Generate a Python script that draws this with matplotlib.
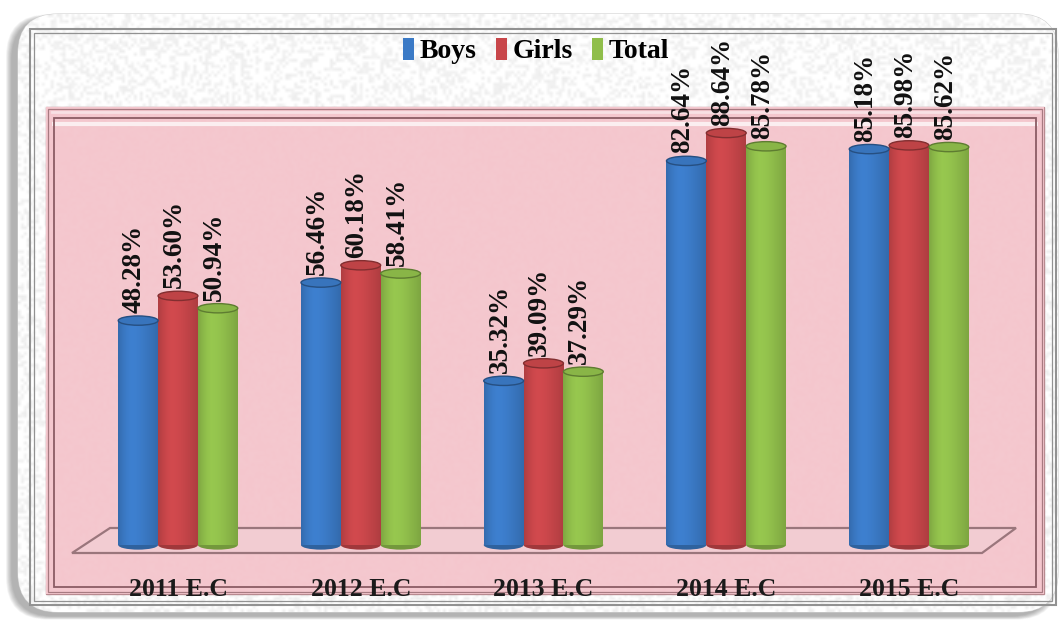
import numpy as np
import matplotlib
matplotlib.use("Agg")
import matplotlib.pyplot as plt
from matplotlib.patches import FancyBboxPatch, Rectangle, Ellipse, Polygon
from matplotlib.colors import to_rgb

# ---- data ----
years = ["2011 E.C", "2012 E.C", "2013 E.C", "2014 E.C", "2015 E.C"]
boys = [48.28, 56.46, 35.32, 82.64, 85.18]
girls = [53.60, 60.18, 39.09, 88.64, 85.98]
total = [50.94, 58.41, 37.29, 85.78, 85.62]
series_names = ["Boys", "Girls", "Total"]
series_colors = ["#3b7ac6", "#c8464a", "#90be4b"]

W, H = 1064, 621
SERIF = ["Liberation Serif", "DejaVu Serif"]

fig = plt.figure(figsize=(W / 100, H / 100), dpi=100)
fig.patch.set_facecolor("white")

# ---- decoration layer in pixel coordinates ----
bg = fig.add_axes([0, 0, 1, 1])
bg.set_xlim(0, W)
bg.set_ylim(H, 0)
bg.axis("off")


def speckle(ny, nx, seed_a, seed_b):
    yy, xx = np.mgrid[0:ny, 0:nx].astype(float)
    v = np.sin(xx * seed_a + yy * seed_b) * 43758.5453
    return v - np.floor(v)


# soft drop shadow of the card (offset left / down)
for i in range(12):
    grow = 12 - i
    sh = FancyBboxPatch((18 - 6 - grow * 0.5, 14 + 4 - grow * 0.3), 1040 + grow, 598 + grow * 0.6,
                        boxstyle="round,pad=0,rounding_size=42",
                        facecolor="#505050", edgecolor="none", alpha=0.045, zorder=1)
    bg.add_patch(sh)

card = FancyBboxPatch((18, 14), 1040, 598, boxstyle="round,pad=0,rounding_size=40",
                      facecolor="white", edgecolor="#d0d0d0", linewidth=0.8, zorder=2)
bg.add_patch(card)

# light grainy texture on the card
n1 = speckle(200, 350, 12.9898, 78.233)
card_tex = 1.0 - 0.07 * (n1 > 0.6) * n1
tex = bg.imshow(np.dstack([card_tex] * 3), extent=(18, 1058, 612, 14),
                interpolation="bilinear", zorder=3)
tex.set_clip_path(card)

# double grey frame line inside the card
for off, lw in [(0, 1.5), (4, 0.9)]:
    bg.add_patch(Rectangle((30 + off, 29 + off), 1026 - 2 * off, 576 - 2 * off,
                           fill=False, edgecolor="#929292", linewidth=lw, zorder=4))

# pink plotting panel with textured fill and bevelled border
panel = Rectangle((46, 107), 998, 487, facecolor="#f4c8cf", edgecolor="#b88a90",
                  linewidth=1.0, zorder=5)
bg.add_patch(panel)
n2 = speckle(160, 330, 4.898, 7.233)
base = np.array(to_rgb("#f4c6cd"))
pink = base[None, None, :] * (1 - 0.05 * n2[..., None]) + 0.05 * n2[..., None]
ptex = bg.imshow(pink, extent=(46, 1044, 594, 107), interpolation="bilinear", zorder=6)
ptex.set_clip_path(panel)
# bevel highlight and inner border lines
bg.plot([52, 1038], [124, 124], color="#fbeef0", lw=3, zorder=7, solid_capstyle="butt")
bg.plot([52, 1038], [112, 112], color="#f8e0e4", lw=2, zorder=7)
bg.add_patch(Rectangle((54, 118), 982, 469, fill=False, edgecolor="#8b5c64",
                       linewidth=1.3, zorder=7))
bg.add_patch(Rectangle((48, 109), 994, 483, fill=False, edgecolor="#a77a81",
                       linewidth=0.9, zorder=7))

# perspective floor of the chart
floor = Polygon([(72, 553), (110, 528), (1016, 528), (982, 553)], closed=True,
                facecolor="#f2ccd2", edgecolor="#9a767c", linewidth=1.6, zorder=8)
bg.add_patch(floor)

# ---- data axes: y = 0 sits on the floor, 100 % near the top ----
px_left, px_right = 86.6, 1000.4
px_zero, px_hundred = 545.0, 80.2
ax = fig.add_axes([px_left / W, (H - px_zero) / H,
                   (px_right - px_left) / W, (px_zero - px_hundred) / H])
ax.set_xlim(-0.5, 4.5)
ax.set_ylim(0, 100)
ax.patch.set_alpha(0)
for s in ax.spines.values():
    s.set_visible(False)
ax.set_yticks([])

bar_w = 0.218
offsets = [-bar_w, 0.0, bar_w]
ell_h = 2.0  # height of the cylinder caps in data units

x = np.arange(len(years))
shade = np.array([0.62, 0.8, 0.93, 1.0, 0.98, 0.93, 0.86, 0.78, 0.7, 0.6])
shade = np.interp(np.linspace(0, 9, 64), np.arange(10), shade)

handles = []
for name, vals, col, off in zip(series_names, [boys, girls, total], series_colors, offsets):
    rgb = np.array(to_rgb(col))
    bars = ax.bar(x + off, vals, width=bar_w, color=col, label=name,
                  edgecolor="none", zorder=3)
    handles.append(bars)
    grad = np.clip(rgb[None, :] * (0.6 + 0.45 * shade[:, None]), 0, 1)
    for rect, v in zip(bars, vals):
        x0 = rect.get_x()
        # rounded bottom of the cylinder
        ax.add_patch(Ellipse((x0 + bar_w / 2, 0), bar_w, ell_h,
                             facecolor=tuple(rgb * 0.8), edgecolor="none", zorder=2,
                             clip_on=False))
        im = ax.imshow(grad[None, :, :], extent=(x0, x0 + bar_w, 0, v),
                       aspect="auto", interpolation="bilinear", zorder=4)
        im.set_clip_path(rect)
        # cylinder cap
        ax.add_patch(Ellipse((x0 + bar_w / 2, v), bar_w, ell_h,
                             facecolor=tuple(np.clip(rgb * 0.95, 0, 1)),
                             edgecolor=tuple(rgb * 0.65), linewidth=1.0, zorder=5))
        ax.text(x0 + bar_w / 2 - 0.02, v + 1.6, f"{v:.2f}%", rotation=90,
                ha="center", va="bottom", fontsize=19.5, fontweight="bold",
                family=SERIF, color="#111111", zorder=6, clip_on=False)

ax.set_xlim(-0.5, 4.5)
ax.set_ylim(0, 100)
ax.set_xticks(x)
ax.set_xticklabels(years, fontsize=18.5, fontweight="bold", family=SERIF, color="#1a1a1a")
ax.tick_params(axis="x", length=0, pad=23.5)

leg = fig.legend(handles, series_names, loc="center", bbox_to_anchor=(536 / W, 1 - 51 / H),
                 ncol=3, frameon=False, handlelength=0.4, handleheight=0.85,
                 handletextpad=0.2, columnspacing=0.7,
                 prop={"family": SERIF, "weight": "bold", "size": 20})

fig.savefig("out.png", dpi=100)
